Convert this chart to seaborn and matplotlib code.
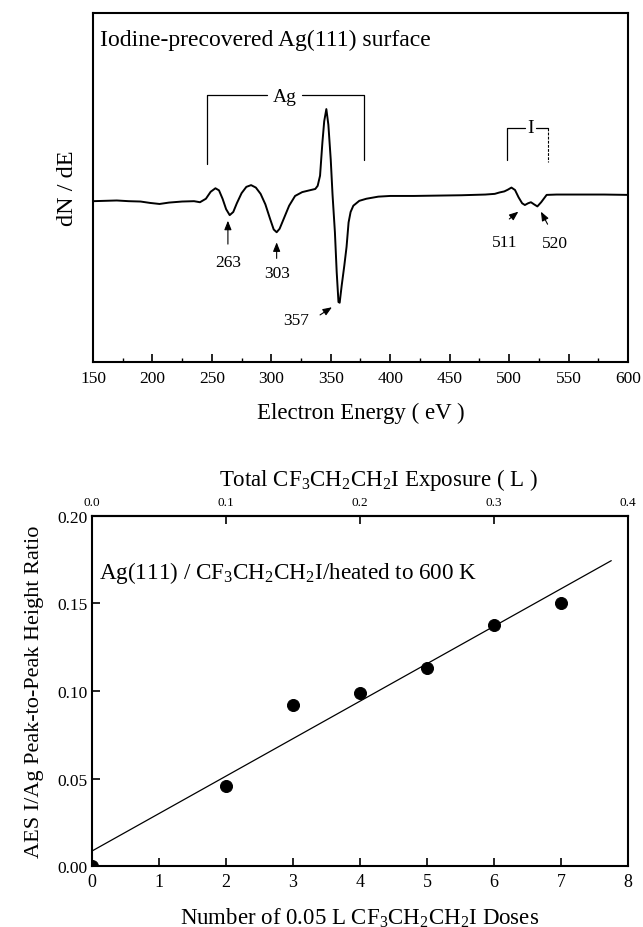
import numpy as np
import matplotlib
matplotlib.use("Agg")
import matplotlib.pyplot as plt
import seaborn as sns

# AES spectrum of the iodine-precovered Ag(111) surface
energy = [150, 160, 170, 180, 190, 198, 206, 214, 225, 235, 240, 245, 249,
          253, 256, 259, 262, 265, 268, 271, 275, 279, 283, 287, 291, 295,
          299, 302, 304.5, 307, 311, 315, 320, 326, 332, 337, 339, 341, 343,
          344.5, 346.3, 348, 350, 351.5, 353.5, 355, 356.5, 357.5, 359.2,
          361.4, 363.3, 365, 366.7, 369, 374, 380, 390, 400, 420, 440, 460,
          480, 488, 492, 496, 499, 502, 505, 508, 511, 513.3, 516, 518.4,
          521, 523.8, 527, 531.6, 540, 560, 580, 600]
signal = [0.461, 0.462, 0.463, 0.461, 0.460, 0.456, 0.453, 0.457, 0.460,
          0.461, 0.458, 0.468, 0.488, 0.498, 0.492, 0.468, 0.438, 0.421,
          0.430, 0.455, 0.484, 0.502, 0.507, 0.500, 0.482, 0.452, 0.410,
          0.380, 0.372, 0.382, 0.415, 0.448, 0.476, 0.487, 0.492, 0.496,
          0.505, 0.534, 0.630, 0.690, 0.725, 0.680, 0.580, 0.480, 0.372,
          0.258, 0.172, 0.170, 0.219, 0.276, 0.330, 0.400, 0.430, 0.448,
          0.462, 0.468, 0.474, 0.476, 0.476, 0.477, 0.478, 0.480, 0.482,
          0.486, 0.489, 0.494, 0.500, 0.493, 0.472, 0.455, 0.450, 0.455,
          0.458, 0.452, 0.446, 0.458, 0.479, 0.480, 0.480, 0.480, 0.479]

# I/Ag peak-to-peak ratio vs number of 0.05 L doses
doses = [0, 2, 3, 4, 5, 6, 7]
ratio = [0.0, 0.046, 0.092, 0.099, 0.113, 0.138, 0.150]
fit_end = 7.75
dose_size = 0.05

sns.set_theme(style="ticks")
plt.rcParams.update({
    'font.family': ['Liberation Serif', 'DejaVu Serif'],
    'mathtext.fontset': 'custom',
    'mathtext.rm': 'Liberation Serif',
    'mathtext.it': 'Liberation Serif:italic',
    'axes.linewidth': 1.5,
    'axes.edgecolor': 'black',
    'xtick.direction': 'in',
    'ytick.direction': 'in',
    'xtick.color': 'black',
    'ytick.color': 'black',
    'text.color': 'black',
    'axes.labelcolor': 'black',
})

fig = plt.figure(figsize=(6.43, 9.28), dpi=100)

# ---- top panel: spectrum ----
ax1 = fig.add_axes([0.1446, 0.6088, 0.832, 0.376])
sns.lineplot(x=energy, y=signal, ax=ax1, color='black', linewidth=1.4)
ax1.set_xlim(150, 600)
ax1.set_ylim(0, 1)
ax1.set_yticks([])
ax1.set_xticks(np.arange(150, 601, 50))
ax1.set_xticks(np.arange(175, 600, 50), minor=True)
ax1.tick_params(axis='x', which='major', length=5.5, width=1.2, labelsize=12.5, pad=6)
ax1.tick_params(axis='x', which='minor', length=3, width=1.0)
ax1.set_xlabel("Electron Energy ( eV )", fontsize=16.5, labelpad=11)
ax1.set_ylabel("dN / dE", fontsize=17.5, labelpad=11)
ax1.text(0.013, 0.925, "Iodine-precovered Ag(111) surface", transform=ax1.transAxes,
         fontsize=17, va='center', ha='left')

# Ag bracket
blk = dict(color='black', linewidth=0.9)
ax1.plot([246, 246, 296], [0.567, 0.766, 0.766], **blk)
ax1.plot([326, 378, 378], [0.766, 0.766, 0.579], **blk)
ax1.text(311, 0.762, "Ag", fontsize=14, ha='center', va='center')
# I bracket
ax1.plot([498.5, 498.5, 513], [0.580, 0.672, 0.672], **blk)
ax1.plot([522.5, 532.4], [0.672, 0.672], **blk)
ax1.plot([532.4, 532.4], [0.672, 0.572], color='black', linewidth=0.8,
         linestyle=(0, (2.5, 1.2)))
ax1.text(517.7, 0.672, "I", fontsize=14, ha='center', va='center')

arrow = dict(arrowstyle='-|>,head_length=0.45,head_width=0.18', color='black',
             linewidth=0.8, shrinkA=0, shrinkB=0)
peaks = [("263", (263.5, 0.286), (263.5, 0.338), (263.5, 0.405)),
         ("303", (304.5, 0.255), (304.5, 0.297), (304.5, 0.343)),
         ("357", (321, 0.120), (341, 0.135), (351, 0.157)),
         ("511", (496.5, 0.343), (500.2, 0.410), (507.8, 0.431)),
         ("520", (538.6, 0.340), (532.4, 0.395), (526.8, 0.431))]
for lab, txt, tail, tip in peaks:
    ax1.text(txt[0], txt[1], lab, fontsize=12.5, ha='center', va='center')
    ax1.annotate("", xy=tip, xytext=tail, arrowprops=arrow)

# ---- bottom panel: I/Ag ratio ----
ax2 = fig.add_axes([0.1431, 0.0657, 0.8336, 0.3772])
slope, icpt = np.polyfit(doses, ratio, 1)
fit_x = np.array([0, fit_end])
sns.lineplot(x=fit_x, y=icpt + slope * fit_x, ax=ax2, color='black', linewidth=0.9)
sns.scatterplot(x=doses, y=ratio, ax=ax2, color='black', s=75, edgecolor='black',
                zorder=3)
ax2.set_xlim(0, 8)
ax2.set_ylim(0, 0.2)
ax2.set_xticks(range(0, 9))
ax2.set_yticks(np.arange(0, 0.201, 0.05))
ax2.yaxis.set_major_formatter(matplotlib.ticker.FormatStrFormatter('%.2f'))
ax2.tick_params(axis='x', length=5.5, width=1.2, labelsize=13, pad=5)
ax2.tick_params(axis='y', length=5.5, width=1.2, labelsize=12.5, pad=3)
ax2.set_xlabel("Number of 0.05 L CF$_{3}$CH$_{2}$CH$_{2}$I Doses", fontsize=16.5,
               labelpad=11)
ax2.set_ylabel("AES I/Ag Peak-to-Peak Height Ratio", fontsize=16, labelpad=10)
ax2.text(0.013, 0.84, "Ag(111) / CF$_{3}$CH$_{2}$CH$_{2}$I/heated to 600 K",
         transform=ax2.transAxes, fontsize=16.7, va='center', ha='left')

top = ax2.secondary_xaxis('top', functions=(lambda d: d * dose_size,
                                            lambda e: e / dose_size))
top.set_xticks(np.arange(0, 0.41, 0.1))
top.xaxis.set_major_formatter(matplotlib.ticker.FormatStrFormatter('%.1f'))
top.tick_params(axis='x', direction='in', length=5.5, width=1.2, labelsize=9.5, pad=6)
top.set_xlabel("Total CF$_{3}$CH$_{2}$CH$_{2}$I Exposure ( L )", fontsize=16.5,
               labelpad=8, x=0.535)

fig.savefig("out.png", dpi=100)
